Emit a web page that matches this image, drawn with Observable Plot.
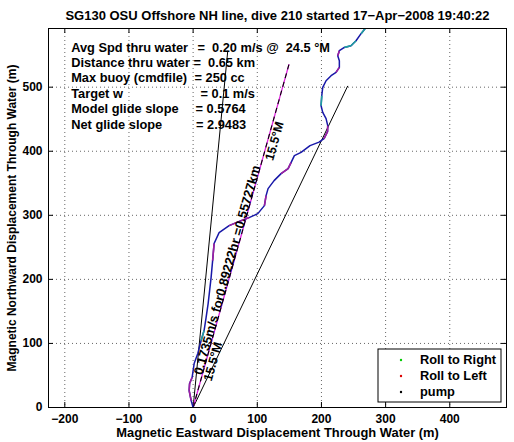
<!DOCTYPE html>
<html><head><meta charset="utf-8">
<script src="https://cdn.jsdelivr.net/npm/d3@7"></script>
<script src="https://cdn.jsdelivr.net/npm/@observablehq/plot@0.6"></script>
<style>body{margin:0;background:#fff}svg{display:block}</style>
</head><body><div id="chart"></div>
<script>
const titleText = "SG130 OSU Offshore NH line, dive 210 started 17\u2212Apr\u22122008 19:40:22";
const xLabel = "Magnetic Eastward Displacement Through Water (m)";
const yLabel = "Magnetic Northward Displacement Through Water (m)";
const xTicks = [-200, -100, 0, 100, 200, 300, 400];
const yTicks = [0, 100, 200, 300, 400, 500];

// glider track through water (m)
const trackX = [0,-3.1,-6.2,-5.5,-1.6,1.6,7.3,12.5,17.1,20.2,23.4,25.7,28.0,30.4,32.7,40.5,56.1,74.8,87.2,100.8,111.1,113.7,116.8,126.2,137.1,148.0,152.6,157.8,168.2,182.2,196.3,204.0,209.5,209.8,207.2,202.0,199.4,200.5,202.0,207.2,215.0,222.7,227.9,227.9,225.4,227.9,235.7,246.1,253.9,261.7,269.5];
const trackY = [0,10.9,26.5,37.4,46.8,68.6,84.2,104.5,120.1,140.4,162.2,182.5,202.8,229.3,255.9,273.0,283.9,291.7,296.4,302.6,315.1,330.7,341.7,354.1,365.1,372.9,382.2,393.1,398.3,408.7,414.2,419.7,430.6,439.9,450.9,460.7,471.1,486.7,499.7,510.1,517.9,523.1,530.9,541.3,549.1,556.9,562.1,564.7,572.5,583.5,593.3];
// roll state of the segment that starts at each point: R = right, L = left
const trackRoll = ["","L","L","L","","","","R","","","","","","L","","","L","L","","","L","","","","L","L","","","","","","L","L","","","","R","","","","","L","","","L","","R","R","","R",""];

// reference lines from the origin: [east, north] end points (m)
const lineHeading = [54, 557];
const lineAvg = [241, 502];
const lineNet = [149.5, 536];

const statLabels = ["Avg Spd thru water", "Distance thru water", "Max buoy (cmdfile)", "Target w", "Model glide slope", "Net glide slope"];
const statValues = ["=\u00a0\u00a00.20 m/s @\u00a0\u00a024.5\u00a0\u00b0M", "=\u00a0\u00a00.65 km", "= 250 cc", "= 0.1 m/s", "= 0.5764", "= 2.9483"];
const statValueOffsets = [149, 145, 146, 152, 147, 147.5];

const netText = "0.1735m/s for0.89222hr =0.55727km";
const headingText = "15.5\u00b0M";
const legendNames = ["Roll to Right", "Roll to Left", "pump"];
const legendColors = ["#00cc00", "#dd0000", "#000000"];

const xDomain = [-225.4, 488.4];
const yDomain = [0, 591.6];

const segData = trackRoll.slice(0, trackX.length - 1).map((r, i) => ({
  x1: trackX[i], y1: trackY[i], x2: trackX[i + 1], y2: trackY[i + 1], r
}));
const track = trackX.map((x, i) => ({x, y: trackY[i]}));
const ang = -Math.atan2(lineNet[1] * 0.6406, lineNet[0] * 0.6417) * 180 / Math.PI;
const onNet = y => ({x: lineNet[0] * y / lineNet[1], y});

const fmt = d => d < 0 ? "\u2212" + (-d) : String(d);
const tickLenX = 7.8, tickLenY = 7.8;

const marks = [
  Plot.ruleX(xTicks, {stroke: "#666", strokeDasharray: "1,3"}),
  Plot.ruleY(yTicks.filter(d => d > 0), {stroke: "#666", strokeDasharray: "1,3"}),
  // inward ticks on four sides
  Plot.ruleX(xTicks, {y1: yDomain[0], y2: yDomain[0] + tickLenY, stroke: "#000"}),
  Plot.ruleX(xTicks, {y1: yDomain[1], y2: yDomain[1] - tickLenY, stroke: "#000"}),
  Plot.ruleY(yTicks, {x1: xDomain[0], x2: xDomain[0] + tickLenX, stroke: "#000"}),
  Plot.ruleY(yTicks, {x1: xDomain[1], x2: xDomain[1] - tickLenX, stroke: "#000"}),
  Plot.link([lineHeading, lineAvg], {x1: 0, y1: 0, x2: d => d[0], y2: d => d[1], stroke: "#000", strokeWidth: 1}),
  Plot.link([lineNet], {x1: 0, y1: 0, x2: d => d[0], y2: d => d[1], stroke: "#e020e0", strokeWidth: 1.3}),
  Plot.link([lineNet], {x1: 0, y1: 0, x2: d => d[0], y2: d => d[1], stroke: "#000", strokeWidth: 1.1, strokeDasharray: "5,4"}),
  Plot.line(track, {x: "x", y: "y", stroke: "#1818a8", strokeWidth: 1.5, clip: true}),
  Plot.link(segData.filter(d => d.r === "L"), {x1: "x1", y1: "y1", x2: "x2", y2: "y2", stroke: "#a020a0", strokeWidth: 1.6, clip: true}),
  Plot.link(segData.filter(d => d.r === "R"), {x1: "x1", y1: "y1", x2: "x2", y2: "y2", stroke: "#20a0a0", strokeWidth: 1.6, clip: true}),
  Plot.text([onNet(50)], {x: "x", y: "y", text: () => netText, rotate: ang, textAnchor: "start", lineAnchor: "bottom", fontSize: 12.8}),
  Plot.text([onNet(44)], {x: "x", y: "y", text: () => headingText, rotate: ang, textAnchor: "start", lineAnchor: "top", dx: 2, fontSize: 12.5}),
  Plot.text([onNet(388)], {x: "x", y: "y", text: () => headingText, rotate: ang, textAnchor: "start", lineAnchor: "top", dx: 2, fontSize: 12.5}),
  ...statLabels.map((t, i) => Plot.text([t], {frameAnchor: "top-left", text: d => d, dx: 22.7, dy: 19 + i * 15.4, textAnchor: "start", lineAnchor: "middle", fontSize: 12.8})),
  ...statValues.map((t, i) => Plot.text([t], {frameAnchor: "top-left", text: d => d, dx: statValueOffsets[i], dy: 19 + i * 15.4, textAnchor: "start", lineAnchor: "middle", fontSize: 12.8})),
  Plot.frame({stroke: "#000"}),
  Plot.axisX({ticks: xTicks, tickSize: 0, tickPadding: 7, tickFormat: fmt, fontSize: 12, fontWeight: "bold", label: null}),
  Plot.axisY({ticks: yTicks, tickSize: 0, tickPadding: 6, tickFormat: fmt, fontSize: 12, fontWeight: "bold", label: null}),
  Plot.text([xLabel], {frameAnchor: "bottom", text: d => d, dy: 25, textAnchor: "middle", lineAnchor: "middle", fontSize: 12.9}),
  Plot.text([yLabel], {frameAnchor: "left", text: d => d, dx: -36, rotate: -90, textAnchor: "middle", lineAnchor: "middle", fontSize: 12}),
  Plot.text([titleText], {frameAnchor: "top", text: d => d, dy: -13, textAnchor: "middle", lineAnchor: "middle", fontSize: 13})
];

const chart = Plot.plot({
  width: 514, height: 442,
  marginLeft: 48, marginRight: 8, marginTop: 28, marginBottom: 35,
  x: {domain: xDomain},
  y: {domain: yDomain},
  style: {fontFamily: "'Liberation Sans', Arial, sans-serif", fontWeight: "bold", fontSize: "12px", background: "#fff", color: "#000"},
  marks
});

// legend box in the lower-right corner of the frame
const svg = d3.select(chart);
const lg = svg.append("g").attr("transform", "translate(378,349)");
lg.append("rect").attr("width", 123).attr("height", 53).attr("fill", "#fff").attr("stroke", "#000");
legendNames.forEach((n, i) => {
  const y = 11 + i * 16;
  lg.append("circle").attr("cx", 23).attr("cy", y).attr("r", 1.2).attr("fill", legendColors[i]);
  lg.append("text").attr("x", 42).attr("y", y).attr("dy", "0.35em").attr("text-anchor", "start")
    .attr("font-size", 12.8).attr("font-weight", "bold").attr("fill", "#000").text(n);
});
document.getElementById("chart").appendChild(chart);
</script></body></html>
